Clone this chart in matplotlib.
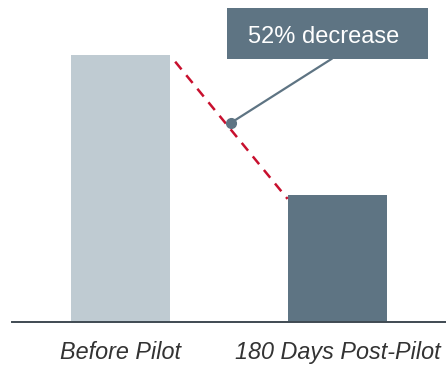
import matplotlib.pyplot as plt
from matplotlib.patches import Rectangle

plt.rcParams['font.family'] = ['Liberation Sans', 'DejaVu Sans']

categories = ['Before Pilot', '180 Days Post-Pilot']
values = [100, 47.6]
bar_colors = ['#bfcbd2', '#5e7483']
callout_text = '52% decrease'

fig = plt.figure(figsize=(4.46, 3.66), dpi=100)
ax = fig.add_axes([12 / 446, 44 / 366, 434 / 446, 322 / 366])

x = range(len(categories))
width = 0.46
ax.bar(x, values, width=width, color=bar_colors, zorder=2)

ax.set_xlim(-0.5, 1.5)
ax.set_ylim(0, 120.6)

# dashed red line between the bar tops
x0, y0 = width / 2 + 0.022, values[0] - 2.5
x1, y1 = 1 - width / 2, values[1] - 1.5
ax.plot([x0, x1], [y0, y1], color='#c8102e', lw=1.8, ls=(0, (4, 3)), zorder=3)

# callout box, leader line and dot
dot_x, dot_y = 0.507, 74.5
ax.add_patch(Rectangle((0.493, 98.5), 0.926, 19.1, facecolor='#5e7483',
                       edgecolor='none', zorder=4, clip_on=False))
ax.text(0.938, 104.4, callout_text, color='white', fontsize=17,
        ha='center', va='baseline', zorder=5)
ax.plot([dot_x, 0.972], [dot_y, 98.5], color='#5e7483', lw=1.6, zorder=4)
ax.plot(dot_x, dot_y, 'o', color='#5e7483', ms=7, zorder=5)

for s in ['top', 'right', 'left']:
    ax.spines[s].set_visible(False)
ax.spines['bottom'].set_color('#3f4a52')
ax.spines['bottom'].set_linewidth(1.4)
ax.set_yticks([])
ax.set_xticks(list(x))
ax.set_xticklabels(categories, fontsize=16.8, style='italic', color='#333333')
ax.tick_params(axis='x', length=0, pad=14)

fig.savefig('out.png', dpi=100)
